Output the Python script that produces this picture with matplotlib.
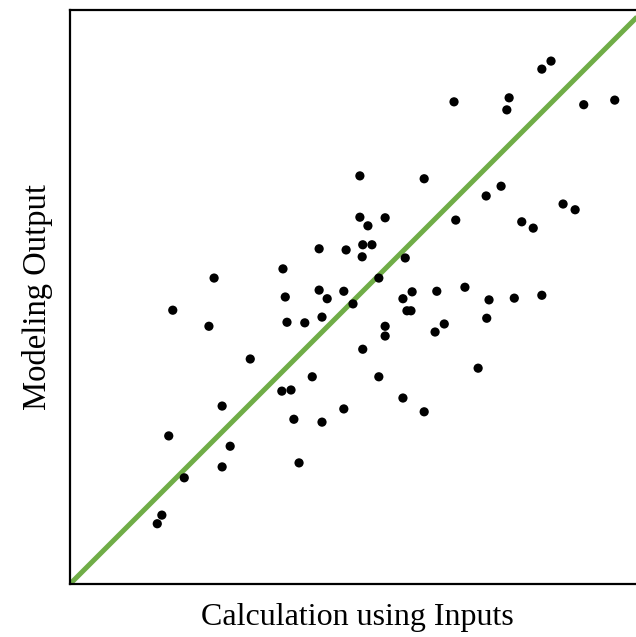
import matplotlib
matplotlib.use("Agg")
import matplotlib.pyplot as plt

# scatter values (axis scale 0-100, no ticks shown)
calc_inputs = [15.2, 16.0, 17.2, 17.9, 19.9, 24.2, 25.1, 26.5, 26.5, 27.9,
               31.4, 37.1, 36.9, 37.5, 37.8, 38.5, 39.0, 39.9, 40.9, 42.2,
               43.4, 43.4, 43.9, 43.9, 44.8, 47.7, 47.7, 48.1, 49.3, 50.5,
               50.5, 51.0, 50.9, 51.9, 52.6, 51.0, 53.8, 53.8, 54.9, 54.9,
               54.9, 58.0, 58.0, 58.4, 58.7, 59.4, 59.6, 61.7, 61.7, 63.6,
               63.9, 65.2, 66.9, 67.2, 68.8, 71.1, 72.5, 72.6, 73.0, 75.1,
               76.1, 76.5, 77.4, 78.7, 80.7, 82.2, 82.2, 83.8, 85.9, 88.0,
               89.5, 94.9]
model_output = [10.5, 12.0, 25.8, 47.7, 18.5, 44.9, 53.3, 31.0, 20.4, 24.0,
                39.2, 54.9, 33.6, 50.0, 45.6, 33.8, 28.7, 21.1, 45.5, 36.1,
                58.4, 51.2, 46.5, 28.2, 49.7, 51.0, 30.5, 58.2, 48.8, 71.1,
                63.9, 59.1, 57.0, 62.4, 59.1, 40.9, 53.3, 36.1, 63.8, 44.9,
                43.2, 49.7, 32.4, 56.8, 47.6, 47.6, 50.9, 30.0, 70.6, 43.9,
                51.0, 45.3, 84.0, 63.4, 51.7, 37.6, 67.6, 46.3, 49.5, 69.3,
                82.6, 84.7, 49.8, 63.1, 62.0, 50.3, 89.7, 91.1, 66.2, 65.2,
                83.5, 84.3]

# one-to-one reference line
line_x = [0, 100]
line_y = [0, 100]

fig = plt.figure(figsize=(6.36, 6.37), dpi=100)
# axes run past the right edge, like the cropped original
ax = fig.add_axes([0.1101, 0.0832, 0.9025, 0.9011])

ax.plot(line_x, line_y, color="#70AD47", linewidth=3.6, solid_capstyle="butt", zorder=2)
ax.scatter(calc_inputs, model_output, s=44, color="black", edgecolors="none", zorder=3)

ax.set_xlim(0, 100)
ax.set_ylim(0, 100)
ax.set_xticks([])
ax.set_yticks([])
for sp in ax.spines.values():
    sp.set_linewidth(1.6)
    sp.set_color("black")

ax.set_xlabel("Calculation using Inputs", family="Liberation Serif", fontsize=23, labelpad=14)
ax.set_ylabel("Modeling Output", family="Liberation Serif", fontsize=23.5, labelpad=12)

fig.savefig("out.png", dpi=100)
